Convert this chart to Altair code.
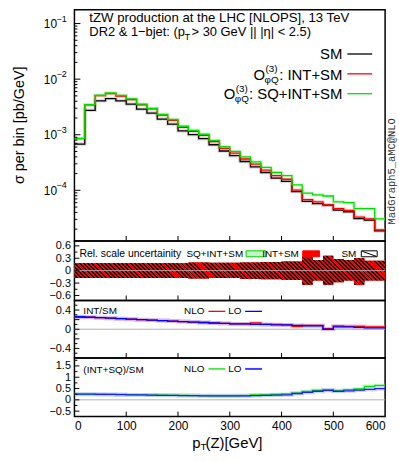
import altair as alt
import pandas as pd

FONT = "Liberation Sans"
W = 313
H1, H2, H3, H4 = 233, 60, 58, 59

# ---------------- data ----------------
edges = [0, 20, 40, 60, 80, 100, 120, 140, 160, 180, 200, 220, 240, 260, 280, 300,
         320, 340, 360, 380, 400, 420, 440, 460, 480, 500, 520, 540, 560, 580, 600]

sm = [6.8e-4, 2.75e-3, 4.07e-3, 4.47e-3, 4.07e-3, 3.55e-3, 2.88e-3, 2.45e-3, 1.91e-3, 1.55e-3,
      1.17e-3, 1.00e-3, 8.5e-4, 6.6e-4, 5.1e-4, 4.2e-4, 3.3e-4, 2.63e-4, 2.09e-4, 1.66e-4,
      1.45e-4, 9.5e-5, 6.3e-5, 5.75e-5, 5.4e-5, 4.4e-5, 4.1e-5, 3.1e-5, 2.9e-5, 1.86e-5]
int_sm = [8.5e-4, 3.44e-3, 5.05e-3, 5.50e-3, 4.97e-3, 4.30e-3, 3.46e-3, 2.92e-3, 2.25e-3, 1.81e-3,
          1.36e-3, 1.15e-3, 9.7e-4, 7.5e-4, 5.7e-4, 4.66e-4, 3.66e-4, 2.97e-4, 2.30e-4, 1.83e-4,
          1.58e-4, 1.01e-4, 6.8e-5, 6.2e-5, 5.45e-5, 4.7e-5, 4.35e-5, 3.3e-5, 3.05e-5, 1.95e-5]
sq_int_sm = [8.6e-4, 3.47e-3, 5.13e-3, 5.63e-3, 5.09e-3, 4.40e-3, 3.54e-3, 2.99e-3, 2.33e-3, 1.88e-3,
             1.42e-3, 1.20e-3, 1.02e-3, 7.9e-4, 6.1e-4, 5.0e-4, 4.0e-4, 3.26e-4, 2.59e-4, 2.09e-4,
             1.84e-4, 1.25e-4, 8.9e-5, 8.3e-5, 7.9e-5, 6.2e-5, 6.0e-5, 4.7e-5, 4.7e-5, 3.05e-5]

# relative scale uncertainty bands
sm_band_up = [0.18, 0.18, 0.18, 0.18, 0.18, 0.18, 0.18, 0.18, 0.18, 0.18, 0.18, 0.20, 0.20, 0.19, 0.19,
              0.19, 0.20, 0.20, 0.21, 0.21, 0.22, 0.22, 0.34, 0.26, 0.36, 0.28, 0.26, 0.30, 0.24, 0.24]
sm_band_dn = [-0.18, -0.18, -0.18, -0.18, -0.18, -0.18, -0.18, -0.18, -0.18, -0.18, -0.18, -0.19, -0.19, -0.18, -0.18,
              -0.18, -0.20, -0.20, -0.21, -0.21, -0.22, -0.22, -0.34, -0.24, -0.34, -0.28, -0.24, -0.34, -0.24, -0.24]
int_band_up = [0.18, 0.18, 0.18, 0.18, 0.18, 0.18, 0.18, 0.18, 0.18, 0.18, 0.18, 0.20, 0.20, 0.19, 0.19,
               0.19, 0.20, 0.20, 0.21, 0.21, 0.22, 0.22, 0.34, 0.26, 0.36, 0.28, 0.26, 0.30, 0.24, 0.24]
int_band_dn = [-0.18, -0.18, -0.18, -0.18, -0.18, -0.18, -0.18, -0.18, -0.18, -0.18, -0.18, -0.19, -0.19, -0.18, -0.18,
               -0.18, -0.20, -0.20, -0.21, -0.21, -0.22, -0.22, -0.34, -0.24, -0.34, -0.28, -0.24, -0.34, -0.24, -0.24]

# ratios
int_nlo = [0.25, 0.25, 0.24, 0.23, 0.22, 0.21, 0.20, 0.19, 0.18, 0.17, 0.16, 0.15, 0.14, 0.13, 0.12,
           0.11, 0.11, 0.13, 0.10, 0.10, 0.09, 0.06, 0.08, 0.08, 0.01, 0.07, 0.06, 0.06, 0.05, 0.05]
int_lo = [0.26, 0.25, 0.24, 0.23, 0.22, 0.21, 0.20, 0.19, 0.18, 0.17, 0.16, 0.15, 0.14, 0.13, 0.12,
          0.11, 0.11, 0.10, 0.10, 0.09, 0.09, 0.08, 0.07, 0.07, 0.00, 0.05, 0.05, 0.04, 0.03, 0.03]
sq_nlo = [0.25, 0.25, 0.25, 0.24, 0.24, 0.23, 0.22, 0.21, 0.21, 0.20, 0.20, 0.19, 0.19, 0.18, 0.18,
          0.18, 0.19, 0.22, 0.22, 0.24, 0.26, 0.30, 0.37, 0.42, 0.45, 0.40, 0.45, 0.48, 0.60, 0.64]
sq_lo = [0.25, 0.25, 0.24, 0.24, 0.23, 0.22, 0.22, 0.21, 0.20, 0.20, 0.19, 0.19, 0.18, 0.18, 0.18,
         0.18, 0.18, 0.19, 0.20, 0.21, 0.22, 0.28, 0.33, 0.38, 0.42, 0.38, 0.40, 0.43, 0.46, 0.50]

# tick positions / labels
x_ticks = [100, 200, 300, 400, 500]
x_labels = [0, 100, 200, 300, 400, 500, 600]
main_major = [1e-4, 1e-3, 1e-2, 1e-1]
main_exp = ["−4", "−3", "−2", "−1"]
main_minor = [k * 10.0 ** d for d in range(-5, 0) for k in range(2, 10) if 1.3e-5 < k * 10.0 ** d < 0.17]
p2_major = [-0.6, -0.3, 0, 0.3, 0.6]
p2_minor = [-0.45, -0.15, 0.15, 0.45]
p3_major = [-0.4, -0.2, 0, 0.2, 0.4]
p3_minor = [-0.5, -0.3, -0.1, 0.1, 0.3, 0.5]
p4_major = [-0.5, 0, 0.5, 1, 1.5]
p4_minor = [-0.25, 0.25, 0.75, 1.25, 1.75]

# ---------------- helpers ----------------
xs = alt.Scale(domain=[0, 600], nice=False, zero=False)


def yaxis(vals, size=11, pad=4, expr=None):
    ax = dict(values=vals, ticks=False, tickSize=0, domain=False, grid=False, labelPadding=pad,
              labelFont=FONT, labelFontSize=size, labelColor="black", title=None)
    if expr is not None:
        ax["labelExpr"] = expr
    else:
        ax["format"] = "~g"
    return alt.Axis(**ax)


xax_bottom = alt.Axis(values=x_labels, ticks=False, tickSize=0, domain=False, grid=False,
                      labelPadding=4, labelFont=FONT, labelFontSize=12, labelColor="black",
                      title=None, format="d")


def steps(vals):
    return pd.DataFrame({"x": edges, "y": list(vals) + [vals[-1]]})


def hist(vals, ys, yax, color, width=1.3, opacity=1.0, xax=None):
    return alt.Chart(steps(vals)).mark_line(
        interpolate="step-after", color=color, strokeWidth=width, opacity=opacity, clip=True
    ).encode(x=alt.X("x:Q", scale=xs, axis=xax), y=alt.Y("y:Q", scale=ys, axis=yax))


def label(text, x, y, size=11, align="left", font=FONT, color="black", angle=None, baseline="middle"):
    kw = dict(align=align, baseline=baseline, font=font, fontSize=size, color=color)
    if angle is not None:
        kw["angle"] = angle
    return alt.Chart(pd.DataFrame({"t": [text]})).mark_text(**kw).encode(
        text="t:N", x=alt.value(x), y=alt.value(y))


def seg(x1, x2, y, color, width=1.3):
    return alt.Chart(pd.DataFrame({"a": [0]})).mark_rule(color=color, strokeWidth=width).encode(
        x=alt.value(x1), x2=alt.value(x2), y=alt.value(y))


def dseg(x1, x2, y1, y2, color, width=1):
    return alt.Chart(pd.DataFrame({"a": [0]})).mark_rule(color=color, strokeWidth=width).encode(
        x=alt.value(x1), x2=alt.value(x2), y=alt.value(y1), y2=alt.value(y2))


def box(x1, x2, y1, y2, fill, stroke):
    return alt.Chart(pd.DataFrame({"a": [0]})).mark_rect(fill=fill, stroke=stroke, strokeWidth=1).encode(
        x=alt.value(x1), x2=alt.value(x2), y=alt.value(y1), y2=alt.value(y2))


def yticks(vals, ys, yax, length):
    return alt.Chart(pd.DataFrame({"v": vals})).mark_rule(color="black", strokeWidth=1).encode(
        y=alt.Y("v:Q", scale=ys, axis=yax), x=alt.value(0), x2=alt.value(length))


def xticks(h, xax=None):
    return alt.Chart(pd.DataFrame({"v": x_ticks})).mark_rule(color="black", strokeWidth=1).encode(
        x=alt.X("v:Q", scale=xs, axis=xax), y=alt.value(h), y2=alt.value(h - 5))


def zero_line(ys, yax):
    return alt.Chart(pd.DataFrame({"v": [0]})).mark_rule(color="#b0b0b0", strokeWidth=1).encode(
        y=alt.Y("v:Q", scale=ys, axis=yax), x=alt.value(0), x2=alt.value(W))


# ---------------- main panel ----------------
ys1 = alt.Scale(type="log", domain=[1.23e-5, 0.178], nice=False)
yax1 = yaxis(main_major, size=12, pad=18, expr="'10'")

exp_df = pd.DataFrame({"v": main_major, "e": main_exp})
exps = alt.Chart(exp_df).mark_text(align="left", baseline="middle", dy=-5, font=FONT, fontSize=9).encode(
    y=alt.Y("v:Q", scale=ys1, axis=yax1), x=alt.value(-18), text="e:N")

main = alt.layer(
    hist(sm, ys1, yax1, "#999999", 3.5, 0.35),
    hist(int_sm, ys1, yax1, "#ff8080", 3.5, 0.35),
    hist(sq_int_sm, ys1, yax1, "#80ff80", 3.5, 0.35),
    hist(sm, ys1, yax1, "black"),
    hist(int_sm, ys1, yax1, "#ff0000"),
    hist(sq_int_sm, ys1, yax1, "#00dd00"),
    exps,
    yticks(main_major, ys1, yax1, 6),
    yticks(main_minor, ys1, yax1, 3),
    xticks(H1),
    # title block
    label("tZW production at the LHC [NLOPS], 13 TeV", 15, 8.5, size=13.3),
    label("DR2 & 1−bjet: (p", 15, 23, size=13),
    label("T", 111, 28, size=9.5),
    label("> 30 GeV || |η| < 2.5)", 118, 23, size=13),
    # legend
    label("SM", 270, 44.8, size=15, align="right"),
    seg(275, 300, 44.7, "black"),
    label("O", 192, 65.5, size=15, align="right"),
    label("(3)", 192.5, 60, size=10),
    label("φQ", 191.5, 70.5, size=10),
    label(": INT+SM", 270, 65.5, size=15, align="right"),
    seg(275, 300, 64.7, "#ff0000"),
    label("O", 162, 85.5, size=15, align="right"),
    label("(3)", 162.5, 80, size=10),
    label("φQ", 161.5, 90.5, size=10),
    label(": SQ+INT+SM", 270, 85.5, size=15, align="right"),
    seg(275, 300, 84.7, "#00dd00"),
    # side texts
    label("MadGraph5_aMC@NLO", W + 7, 163, size=10.5, align="center", font="Liberation Mono",
          color="#333333", angle=270),
    label("σ per bin [pb/GeV]", -55, 116.5, size=14.5, align="center", angle=270),
).properties(width=W, height=H1)

# ---------------- panel 2: scale uncertainty ----------------
ys2 = alt.Scale(domain=[-0.72, 0.72], nice=False, zero=False)
yax2 = yaxis(p2_major)

hh = 0.093
ss = (1 + hh) / (1 + hh * hh)
N = 80
stops = []
for i in range(N):
    a = i / N
    b = (i + 0.45) / N
    c = (i + 1) / N
    stops += [alt.GradientStop(offset=a, color="black"), alt.GradientStop(offset=b, color="black"),
              alt.GradientStop(offset=b, color="#ff0000"), alt.GradientStop(offset=min(c, 1.0), color="#ff0000")]
hatch = alt.LinearGradient(gradient="linear", stops=stops, x1=0, y1=1, x2=ss, y2=1 - ss * hh)


def band(up, dn, color, opacity=1.0):
    df = pd.DataFrame({"x": edges, "up": list(up) + [up[-1]], "dn": list(dn) + [dn[-1]]})
    return alt.Chart(df).mark_area(interpolate="step-after", color=color, opacity=opacity, clip=True).encode(
        x=alt.X("x:Q", scale=xs, axis=None), y=alt.Y("up:Q", scale=ys2, axis=yax2), y2="dn:Q")


p2 = alt.layer(
    band(int_band_up, int_band_dn, "#c8f5c8"),
    band(int_band_up, int_band_dn, "#ff0000"),
    band(sm_band_up, sm_band_dn, hatch),
    zero_line(ys2, yax2),
    yticks(p2_major, ys2, yax2, 5),
    yticks(p2_minor, ys2, yax2, 3),
    xticks(H2),
    label("Rel. scale uncertainity", 5, 13, size=10.5),
    label("SQ+INT+SM", 170, 13, size=10, align="right"),
    box(173, 193, 10, 16, "#c8f5c8", "#00cc00"),
    label("INT+SM", 226, 13, size=10, align="right"),
    box(230, 247, 10, 16, "#ff0000", "#ff0000"),
    label("SM", 284, 13, size=10, align="right"),
    box(289, 305, 10, 16, "white", "black"),
    dseg(290, 304, 10.5, 15.5, "black", 1),
).properties(width=W, height=H2)

# ---------------- panel 3: INT/SM ----------------
ys3 = alt.Scale(domain=[-0.6, 0.6], nice=False, zero=False)
yax3 = yaxis(p3_major)
p3 = alt.layer(
    zero_line(ys3, yax3),
    hist(int_nlo, ys3, yax3, "#ff8080", 4, 0.35),
    hist(int_lo, ys3, yax3, "#8080ff", 4, 0.35),
    hist(int_nlo, ys3, yax3, "#ff0000", 1.3),
    hist(int_lo, ys3, yax3, "#0000ff", 1.3),
    yticks(p3_major, ys3, yax3, 5),
    yticks(p3_minor, ys3, yax3, 3),
    xticks(H3),
    label("INT/SM", 9, 11, size=10),
    label("NLO", 131, 11, size=10, align="right"),
    seg(135, 152, 11, "#ff0000"),
    label("LO", 155, 11, size=10),
    seg(172, 189, 11, "#0000ff"),
).properties(width=W, height=H3)

# ---------------- panel 4: (INT+SQ)/SM ----------------
ys4 = alt.Scale(domain=[-0.74, 1.85], nice=False, zero=False)
yax4 = yaxis(p4_major)
p4 = alt.layer(
    zero_line(ys4, yax4),
    hist(sq_nlo, ys4, yax4, "#80ff80", 4, 0.35, xax_bottom),
    hist(sq_lo, ys4, yax4, "#8080ff", 4, 0.35, xax_bottom),
    hist(sq_nlo, ys4, yax4, "#00dd00", 1.3, xax=xax_bottom),
    hist(sq_lo, ys4, yax4, "#2020ff", 1.3, xax=xax_bottom),
    yticks(p4_major, ys4, yax4, 5),
    yticks(p4_minor, ys4, yax4, 3),
    xticks(H4, xax_bottom),
    label("(INT+SQ)/SM", 9, 12, size=10),
    label("NLO", 131, 11, size=10, align="right"),
    seg(135, 152, 11, "#00dd00"),
    label("LO", 155, 11, size=10),
    seg(172, 189, 11, "#4040ff", 2),
    label("p", 127, 86, size=15, align="right"),
    label("T", 127, 90, size=10),
    label("(Z)[GeV]", 132, 86, size=15),
).properties(width=W, height=H4)

chart = alt.vconcat(main, p2, p3, p4, spacing=0, bounds="flush").properties(
    padding={"left": 11, "top": 7, "right": 0, "bottom": 0}
).configure_view(stroke="black", strokeWidth=1.5).configure_concat(spacing=0)

chart.save("out.html", embed_options={"renderer": "svg", "actions": False})
